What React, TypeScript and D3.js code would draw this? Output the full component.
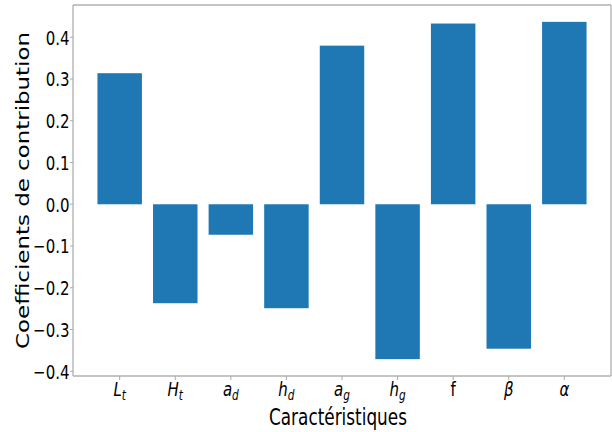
import React from "react";
import * as d3 from "d3";

const features = ["L", "H", "a", "h", "a", "h", "f", "β", "α"];
const subscripts = ["t", "t", "d", "d", "g", "g", "", "", ""];
const italicFlags = [true, true, true, true, true, true, false, true, true];
const coefficients = [0.314, -0.237, -0.073, -0.249, 0.38, -0.371, 0.433, -0.346, 0.437];
const yTicks = [-0.4, -0.3, -0.2, -0.1, 0.0, 0.1, 0.2, 0.3, 0.4];
const xLabel = "Caractéristiques";
const yLabel = "Coefficients de contribution";

const W = 612;
const H = 432;
const M = { left: 73, right: 611, top: 5, bottom: 376 };
const SX = 0.75;
const FONT = "DejaVu Sans";
const BAR = "#1f77b4";
const SPINE = "#8a8a8a";

export default function App() {
  const n = coefficients.length;
  const lo = Math.min(0, d3.min(coefficients) as number);
  const hi = Math.max(0, d3.max(coefficients) as number);
  const padY = 0.05 * (hi - lo);
  const y = d3.scaleLinear().domain([lo - padY, hi + padY]).range([M.bottom, M.top]);
  const barW = 0.8;
  const spanX = n - 1 + barW;
  const x = d3
    .scaleLinear()
    .domain([-barW / 2 - 0.05 * spanX, n - 1 + barW / 2 + 0.05 * spanX])
    .range([M.left, M.right]);
  const fmt = d3.format(".1f");
  const bw = x(barW) - x(0);

  return (
    <div style={{ position: "fixed", left: 0, top: 0, width: W, height: H, background: "#fff" }}>
      <svg width={W} height={H} viewBox={`0 0 ${W} ${H}`} style={{ display: "block" }}>
        <rect x={0} y={0} width={W} height={H} fill="#fff" />
        {coefficients.map((v, i) => (
          <rect
            key={i}
            x={x(i) - bw / 2}
            y={y(Math.max(0, v))}
            width={bw}
            height={Math.abs(y(v) - y(0))}
            fill={BAR}
          />
        ))}
        {/* spines */}
        <line x1={M.left} x2={M.right} y1={M.top} y2={M.top} stroke={SPINE} strokeWidth={1.2} />
        <line x1={M.left} x2={M.right} y1={M.bottom} y2={M.bottom} stroke={SPINE} strokeWidth={1.2} />
        <line x1={M.left} x2={M.left} y1={M.top} y2={M.bottom} stroke="#b5b5b5" strokeWidth={1.4} />
        <line x1={M.right} x2={M.right} y1={M.top} y2={M.bottom} stroke="#b5b5b5" strokeWidth={1.4} />
        {/* y ticks */}
        {yTicks.map((t) => (
          <g key={t}>
            <line x1={M.left - 3} x2={M.left} y1={y(t)} y2={y(t)} stroke="#aaa" strokeWidth={1} />
            <text
              transform={`translate(${M.left - 3.5},${y(t) + 7.3}) scale(${SX},1)`}
              textAnchor="end"
              fontFamily={FONT}
              fontSize={20}
              fill="#000"
            >
              {fmt(t)}
            </text>
          </g>
        ))}
        {/* x ticks */}
        {features.map((f, i) => (
          <g key={i}>
            <line x1={x(i)} x2={x(i)} y1={M.bottom} y2={M.bottom + 4} stroke="#aaa" strokeWidth={1} />
            <text
              transform={`translate(${x(i)},${396}) scale(${SX},1)`}
              textAnchor="middle"
              fontFamily={FONT}
              fontSize={20}
              fontStyle={italicFlags[i] ? "italic" : "normal"}
              fill="#000"
            >
              {f}
              {subscripts[i] ? (
                <tspan fontSize={14} dy={4}>
                  {subscripts[i]}
                </tspan>
              ) : null}
            </text>
          </g>
        ))}
        {/* axis labels */}
        <text
          x={(M.left + M.right) / 2 - 4}
          y={425}
          textAnchor="middle"
          fontFamily={FONT}
          fontSize={23}
          textLength={138}
          lengthAdjust="spacingAndGlyphs"
          fill="#000"
        >
          {xLabel}
        </text>
        <text
          transform={`translate(28.5,${(M.top + M.bottom) / 2}) scale(0.77,1) rotate(-90)`}
          textAnchor="middle"
          fontFamily={FONT}
          fontSize={23}
          textLength={317}
          lengthAdjust="spacingAndGlyphs"
          fill="#000"
        >
          {yLabel}
        </text>
      </svg>
    </div>
  );
}
